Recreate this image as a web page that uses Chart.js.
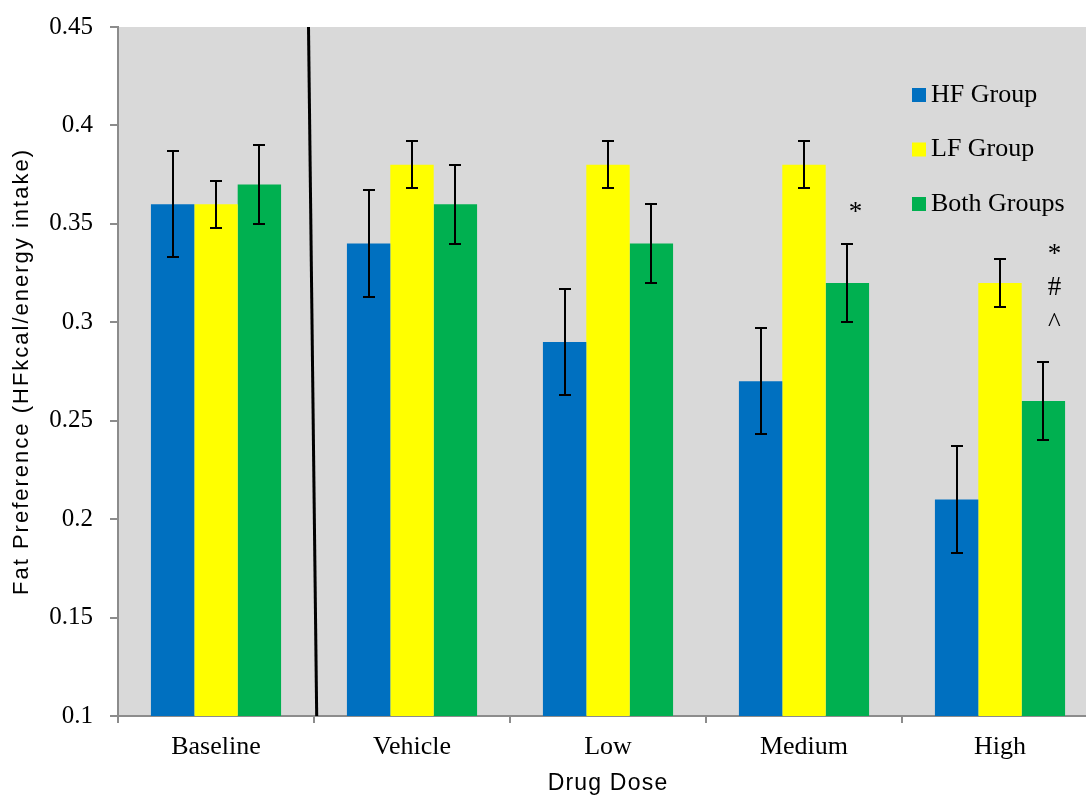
<!DOCTYPE html>
<html>
<head>
<meta charset="utf-8">
<script src="https://cdn.jsdelivr.net/npm/chart.js@4"></script>
<style>
  html, body { margin: 0; padding: 0; background: #ffffff; overflow: hidden; }
  #wrap { width: 1100px; height: 799px; }
</style>
</head>
<body>
<div id="wrap"><canvas id="c" width="1100" height="799"></canvas></div>
<script>
// ---- data ----
const categories = ['Baseline', 'Vehicle', 'Low', 'Medium', 'High'];
const seriesNames = ['HF Group', 'LF Group', 'Both Groups'];
const hfValues   = [0.36, 0.34, 0.29, 0.27, 0.21];
const lfValues   = [0.36, 0.38, 0.38, 0.38, 0.32];
const bothValues = [0.37, 0.36, 0.34, 0.32, 0.26];
const hfErrors   = [0.027, 0.027, 0.027, 0.027, 0.027];
const lfErrors   = [0.012, 0.012, 0.012, 0.012, 0.012];
const bothErrors = [0.020, 0.020, 0.020, 0.020, 0.020];
const yTickValues = [0.1, 0.15, 0.2, 0.25, 0.3, 0.35, 0.4, 0.45];
const yTickLabels = ['0.1', '0.15', '0.2', '0.25', '0.3', '0.35', '0.4', '0.45'];
const yTitle = 'Fat Preference (HFkcal/energy intake)';
const xTitle = 'Drug Dose';
// significance markers: category, series index, symbols stacked top-to-bottom
const markers = [
  { category: 'Medium', series: 2, symbols: ['*'] },
  { category: 'High',   series: 2, symbols: ['*', '#', '^'] }
];

const colors = ['#0070c0', '#ffff00', '#00b050'];
const serif = "'Liberation Serif', 'Times New Roman', serif";
const narrow = "'Liberation Sans Narrow', 'Liberation Sans', Arial, sans-serif";

const errorSets = [hfErrors, lfErrors, bothErrors];

const plotBg = {
  id: 'plotBg',
  beforeDraw(chart) {
    const { ctx, chartArea: a } = chart;
    ctx.save();
    ctx.fillStyle = '#d9d9d9';
    ctx.fillRect(a.left, a.top, a.right - a.left, a.bottom - a.top);
    ctx.restore();
  }
};

const titleSpacing = {
  id: 'titleSpacing',
  beforeDraw(chart) {
    Object.values(chart.scales).forEach(s => {
      if (s._spacedTitle) return;
      const orig = s.drawTitle;
      s.drawTitle = function () {
        this.ctx.save();
        this.ctx.letterSpacing = (this.axis === 'y') ? '2.0px' : '1.2px';
        orig.call(this);
        this.ctx.restore();
      };
      s._spacedTitle = true;
    });
  }
};

const errorBars = {
  id: 'errorBars',
  afterDatasetsDraw(chart) {
    const { ctx } = chart;
    const y = chart.scales.y;
    ctx.save();
    ctx.strokeStyle = '#000000';
    ctx.lineWidth = 2;
    chart.data.datasets.forEach((ds, di) => {
      const meta = chart.getDatasetMeta(di);
      meta.data.forEach((bar, i) => {
        const v = ds.data[i], e = errorSets[di][i];
        const yt = Math.round(y.getPixelForValue(v + e));
        const yb = Math.round(y.getPixelForValue(v - e));
        const x = Math.round(bar.x);
        ctx.beginPath();
        ctx.moveTo(x, yt); ctx.lineTo(x, yb);
        ctx.moveTo(x - 6, yt); ctx.lineTo(x + 6, yt);
        ctx.moveTo(x - 6, yb); ctx.lineTo(x + 6, yb);
        ctx.stroke();
      });
    });
    // separator between Baseline and treatment groups
    const xs = chart.scales.x;
    const bx = (xs.getPixelForValue(0) + xs.getPixelForValue(1)) / 2;
    const a = chart.chartArea;
    ctx.lineWidth = 3;
    ctx.beginPath();
    ctx.moveTo(bx - 5.5, a.top);
    ctx.lineTo(bx + 2.7, a.bottom);
    ctx.stroke();
    // significance markers
    ctx.fillStyle = '#000000';
    ctx.font = '27px ' + serif;
    ctx.textAlign = 'center';
    ctx.textBaseline = 'middle';
    markers.forEach(m => {
      const ci = categories.indexOf(m.category);
      const bar = chart.getDatasetMeta(m.series).data[ci];
      const ds = chart.data.datasets[m.series];
      const top = y.getPixelForValue(ds.data[ci] + errorSets[m.series][ci]);
      const n = m.symbols.length;
      m.symbols.forEach((s, k) => {
        const off = (n - k) * 38 - 2;
        const yy = top - off + (s === '*' ? 5 : 0) + (s === '^' ? -2 : 0);
        ctx.fillText(s, bar.x + (n > 1 ? 11 : 8), yy);
      });
    });
    ctx.restore();
  }
};

const boxLegend = {
  id: 'boxLegend',
  afterDraw(chart) {
    const { ctx } = chart;
    const a = chart.chartArea;
    ctx.save();
    ctx.font = '26px ' + serif;
    ctx.textBaseline = 'middle';
    ctx.textAlign = 'left';
    chart.data.datasets.forEach((ds, i) => {
      const cy = a.top + 68 + i * 54.5;
      const x0 = a.left + 794;
      ctx.fillStyle = ds.backgroundColor;
      ctx.fillRect(x0, cy - 7, 14, 14);
      ctx.fillStyle = '#000000';
      ctx.fillText(ds.label, x0 + 19, cy);
    });
    ctx.restore();
  }
};

new Chart(document.getElementById('c'), {
  type: 'bar',
  data: {
    labels: categories,
    datasets: [
      { label: seriesNames[0], data: hfValues,   backgroundColor: colors[0] },
      { label: seriesNames[1], data: lfValues,   backgroundColor: colors[1] },
      { label: seriesNames[2], data: bothValues, backgroundColor: colors[2] }
    ]
  },
  options: {
    responsive: false,
    animation: false,
    devicePixelRatio: 1,
    layout: { padding: { top: 27, right: 2, left: 0, bottom: 0 } },
    datasets: { bar: { barPercentage: 1.0, categoryPercentage: 0.664, borderWidth: 0 } },
    plugins: { legend: { display: false }, tooltip: { enabled: false } },
    scales: {
      x: {
        grid: { display: true, offset: true, drawOnChartArea: false, tickLength: 7, color: '#8c8c8c', lineWidth: 2 },
        border: { display: true, color: '#8c8c8c', width: 2 },
        ticks: { color: '#000000', font: { family: serif, size: 26 }, padding: 9, maxRotation: 0 },
        title: { display: true, text: xTitle, color: '#000000', font: { family: narrow, size: 23 }, padding: { top: 0, bottom: 2 } },
        afterFit(s) { s.height = 83; s.paddingLeft = 0; s.paddingRight = 0; }
      },
      y: {
        min: 0.1, max: 0.45,
        afterBuildTicks(s) { s.ticks = yTickValues.map(v => ({ value: v })); },
        grid: { display: true, drawOnChartArea: false, tickLength: 8, color: '#8c8c8c', lineWidth: 2 },
        border: { display: true, color: '#8c8c8c', width: 2 },
        ticks: { color: '#000000', font: { family: serif, size: 25 }, padding: 17, callback: (v, i) => yTickLabels[i] },
        title: { display: true, text: yTitle, color: '#000000', font: { family: narrow, size: 22 }, padding: { top: 9, bottom: 0 } },
        afterFit(s) { s.width = 118; s.paddingTop = 0; s.paddingBottom = 0; }
      }
    }
  },
  plugins: [plotBg, titleSpacing, errorBars, boxLegend]
});
</script>
</body>
</html>
